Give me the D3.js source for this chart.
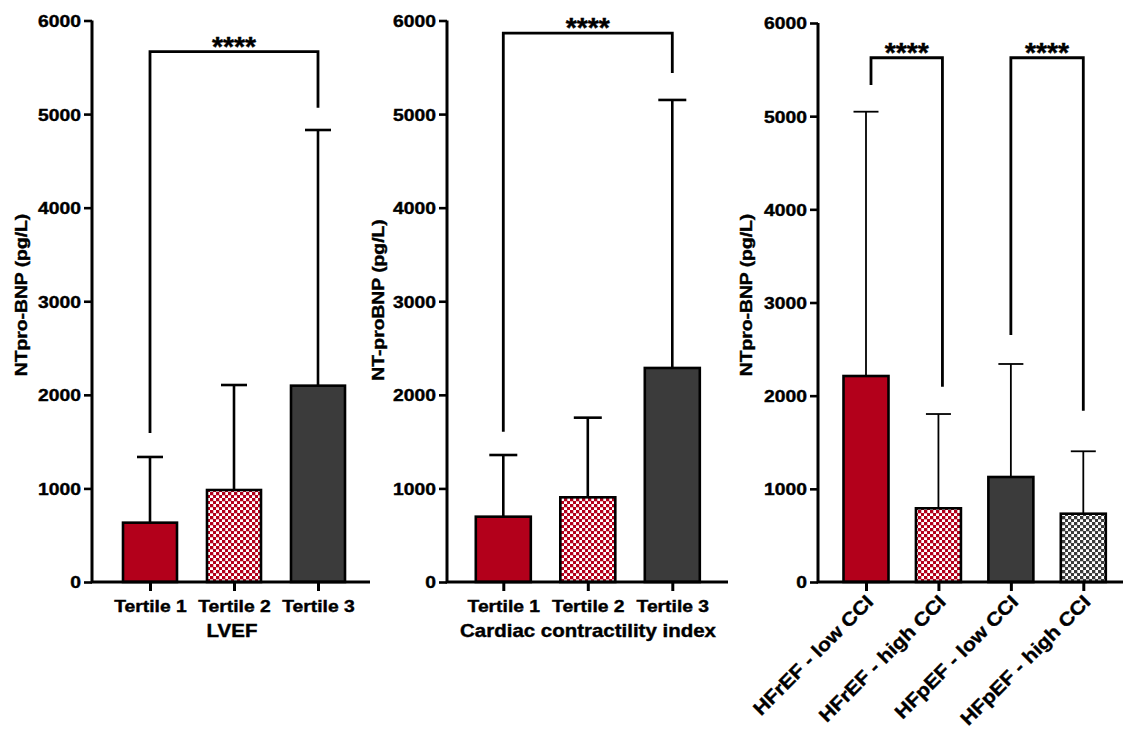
<!DOCTYPE html>
<html>
<head>
<meta charset="utf-8">
<script src="https://cdn.jsdelivr.net/npm/d3@7"></script>
<style>
  body { margin: 0; background: #fff; }
  svg { display: block; }
  text { font-family: "Liberation Sans", Arial, sans-serif; font-weight: bold; fill: #000; stroke: #000; stroke-width: 0.4px; }
</style>
</head>
<body>
<svg id="chart" width="1123" height="735"></svg>
<script>
// ---- values (NT-proBNP, pg/L: bar = mean, whisker = upper SD end) ----
const yTicks = [0, 1000, 2000, 3000, 4000, 5000, 6000];

const lvefCategories = ["Tertile 1", "Tertile 2", "Tertile 3"];
const lvefMeans = [634, 983, 2098];
const lvefUpper = [1336, 2105, 4830];

const cciCategories = ["Tertile 1", "Tertile 2", "Tertile 3"];
const cciMeans = [698, 905, 2287];
const cciUpper = [1357, 1756, 5151];

const groupCategories = ["HFrEF - low CCI", "HFrEF - high CCI", "HFpEF - low CCI", "HFpEF - high CCI"];
const groupMeans = [2211, 791, 1127, 733];
const groupUpper = [5048, 1803, 2340, 1403];

// significance brackets: compared bars, bracket level, and where each leg stops
const lvefSig = [{ a: 0, b: 2, level: 5667, legA: 1592, legB: 5068, label: "****" }];
const cciSig = [{ a: 0, b: 2, level: 5865, legA: 1606, legB: 5439, label: "****" }];
const groupSig = [
  { a: 0, b: 1, level: 5627, legA: 5334, legB: 2096, label: "****" },
  { a: 2, b: 3, level: 5627, legA: 2651, legB: 1839, label: "****" }
];

// ---- styling ----
const RED = "#b3001b";
const DARK = "#3b3b3b";
const STRETCH = 1.17;

const svg = d3.select("#chart");
const defs = svg.append("defs");

function checker(id, color) {
  const p = defs.append("pattern")
    .attr("id", id).attr("width", 6).attr("height", 6)
    .attr("patternUnits", "userSpaceOnUse");
  p.append("rect").attr("width", 6).attr("height", 6).attr("fill", "#fff");
  p.append("rect").attr("x", 0).attr("y", 0).attr("width", 3.3).attr("height", 3.3).attr("fill", color);
  p.append("rect").attr("x", 3).attr("y", 3).attr("width", 3.3).attr("height", 3.3).attr("fill", color);
}
checker("checkRed", RED);
checker("checkDark", DARK);

const panels = [
  {
    cats: lvefCategories, means: lvefMeans, upper: lvefUpper, sig: lvefSig,
    fills: [RED, "url(#checkRed)", DARK],
    axisX: 92, xEnd: 370, first: 150, last: 318, yTop: 20.5, yBottom: 582,
    barW: 54, capW: 26, errW: 2.6, sigNudge: [[0, 0]],
    yTitle: "NTpro-BNP (pg/L)", yTitleX: 27, yTitleY: 295,
    xTitle: "LVEF", xTitleX: 232, rotated: false
  },
  {
    cats: cciCategories, means: cciMeans, upper: cciUpper, sig: cciSig,
    fills: [RED, "url(#checkRed)", DARK],
    axisX: 447, xEnd: 728, first: 503.3, last: 672.3, yTop: 20.5, yBottom: 582,
    barW: 55, capW: 28, errW: 2.6, sigNudge: [[0, 0]],
    yTitle: "NT-proBNP (pg/L)", yTitleX: 384, yTitleY: 300,
    xTitle: "Cardiac contractility index", xTitleX: 588, rotated: false
  },
  {
    cats: groupCategories, means: groupMeans, upper: groupUpper, sig: groupSig,
    fills: [RED, "url(#checkRed)", DARK, "url(#checkDark)"],
    axisX: 818, xEnd: 1123, first: 866, last: 1083.3, yTop: 23, yBottom: 582,
    barW: 45, capW: 25, errW: 1.8, sigNudge: [[5, 4], [0, 0]],
    yTitle: "NTpro-BNP (pg/L)", yTitleX: 752, yTitleY: 295,
    xTitle: null, rotated: true
  }
];

panels.forEach(p => {
  const g = svg.append("g");
  const y = d3.scaleLinear().domain([0, 6000]).range([p.yBottom, p.yTop]);
  const x = d3.scalePoint().domain(p.cats).range([p.first, p.last]);

  // bars
  g.selectAll("rect.bar").data(p.cats).join("rect")
    .attr("class", "bar")
    .attr("x", d => x(d) - p.barW / 2)
    .attr("y", (d, i) => y(p.means[i]))
    .attr("width", p.barW)
    .attr("height", (d, i) => y(0) - y(p.means[i]))
    .attr("fill", (d, i) => p.fills[i])
    .attr("stroke", "#000").attr("stroke-width", 2.6);

  // upper error whiskers
  p.cats.forEach((c, i) => {
    g.append("line")
      .attr("x1", x(c)).attr("x2", x(c))
      .attr("y1", y(p.means[i])).attr("y2", y(p.upper[i]))
      .attr("stroke", "#000").attr("stroke-width", p.errW);
    g.append("line")
      .attr("x1", x(c) - p.capW / 2).attr("x2", x(c) + p.capW / 2)
      .attr("y1", y(p.upper[i])).attr("y2", y(p.upper[i]))
      .attr("stroke", "#000").attr("stroke-width", p.errW);
  });

  // y axis
  const yAxis = g.append("g")
    .attr("transform", `translate(${p.axisX},0)`)
    .call(d3.axisLeft(y).tickValues(yTicks).tickSize(8).tickSizeOuter(0).tickFormat(d3.format("d")));
  yAxis.select(".domain").remove();
  yAxis.attr("font-family", null).attr("font-size", null);
  yAxis.selectAll(".tick line").attr("stroke", "#000").attr("stroke-width", 2.6);
  yAxis.selectAll(".tick text")
    .attr("x", null).attr("dy", "0.36em")
    .attr("transform", `translate(-11,0) scale(${STRETCH},1)`)
    .style("font-size", "16.5px");

  // axis lines
  g.append("path")
    .attr("d", d3.line()([[p.axisX, y(6000)], [p.axisX, y(0)], [p.xEnd, y(0)]]))
    .attr("fill", "none").attr("stroke", "#000").attr("stroke-width", 3)
    .attr("stroke-linejoin", "miter").attr("stroke-linecap", "butt");

  // x axis ticks + labels
  const xAxis = g.append("g")
    .attr("transform", `translate(0,${y(0)})`)
    .call(d3.axisBottom(x).tickSize(9).tickSizeOuter(0));
  xAxis.select(".domain").remove();
  xAxis.attr("font-family", null).attr("font-size", null);
  xAxis.selectAll(".tick line").attr("stroke", "#000").attr("stroke-width", 3);
  if (!p.rotated) {
    xAxis.selectAll(".tick text")
      .attr("y", null).attr("dy", null)
      .attr("transform", `translate(0,29.5) scale(${STRETCH},1)`)
      .style("font-size", "16.5px");
  } else {
    xAxis.selectAll(".tick text")
      .attr("y", null).attr("dy", null)
      .attr("text-anchor", "end")
      .attr("transform", `translate(8,21) rotate(-45) scale(1.12,1)`)
      .style("font-size", "19px");
  }

  // y title
  g.append("text")
    .attr("text-anchor", "middle")
    .attr("transform", `translate(${p.yTitleX},${p.yTitleY}) rotate(-90) scale(${STRETCH},1)`)
    .style("font-size", "16.5px")
    .text(p.yTitle);

  // x title
  if (p.xTitle) {
    g.append("text")
      .attr("text-anchor", "middle")
      .attr("transform", `translate(${p.xTitleX},637) scale(${STRETCH},1)`)
      .style("font-size", "17.5px")
      .text(p.xTitle);
  }

  // significance brackets
  p.sig.forEach((s, k) => {
    const xa = x(p.cats[s.a]) + p.sigNudge[k][0];
    const xb = x(p.cats[s.b]) + p.sigNudge[k][1];
    g.append("path")
      .attr("d", d3.line()([[xa, y(s.legA)], [xa, y(s.level)], [xb, y(s.level)], [xb, y(s.legB)]]))
      .attr("fill", "none").attr("stroke", "#000").attr("stroke-width", 2.8)
      .attr("stroke-linejoin", "miter");
    g.append("text")
      .attr("text-anchor", "middle")
      .attr("transform", `translate(${(xa + xb) / 2},${y(s.level) + 4}) scale(1.05,1)`)
      .style("font-size", "27px")
      .text(s.label);
  });
});
</script>
</body>
</html>
